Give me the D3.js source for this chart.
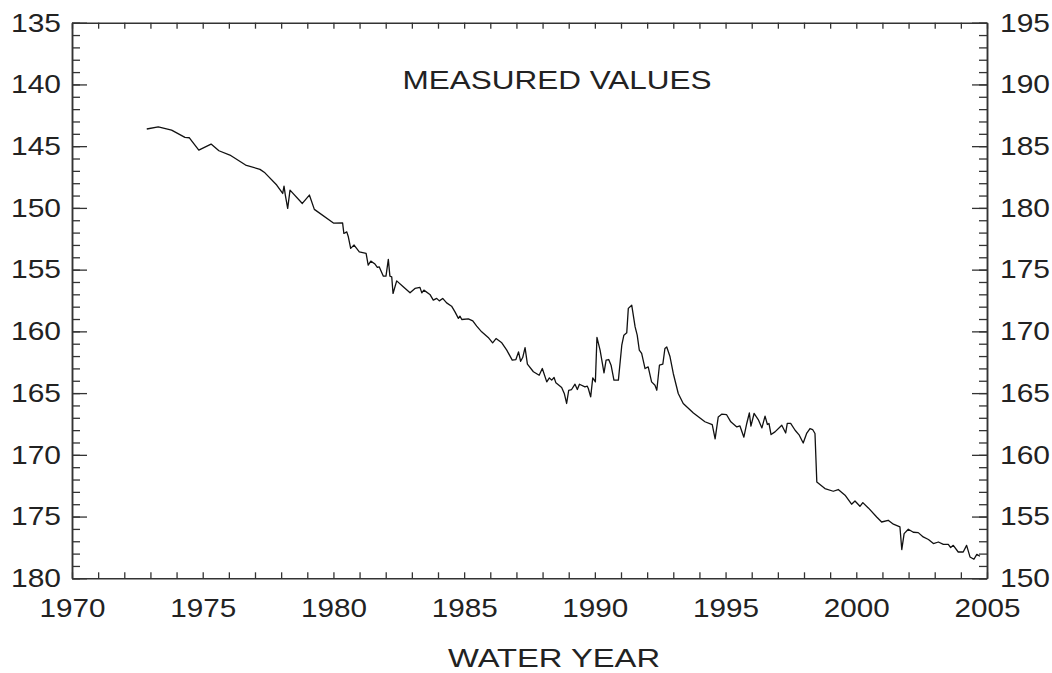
<!DOCTYPE html>
<html><head><meta charset="utf-8">
<script src="https://cdn.jsdelivr.net/npm/d3@7"></script>
<style>body{margin:0;background:#fff}</style></head>
<body>
<svg id="c" width="1052" height="673"></svg>
<script>
// ---- data ----
const years = [
1972.86,1973.30,1973.81,1974.32,1974.49,1974.85,1975.32,1975.62,1976.04,1976.64,
1977.19,1977.38,1977.83,1978.06,1978.11,1978.16,1978.25,1978.34,1978.81,1979.08,
1979.27,1980.00,1980.35,1980.40,1980.51,1980.57,1980.66,1980.79,1980.99,1981.25,
1981.33,1981.43,1981.59,1981.68,1981.75,1981.91,1982.01,1982.10,1982.16,1982.23,
1982.28,1982.42,1982.67,1982.93,1983.12,1983.31,1983.38,1983.46,1983.69,1983.82,
1983.95,1984.05,1984.18,1984.33,1984.52,1984.65,1984.78,1984.84,1984.91,1985.16,
1985.33,1985.48,1985.67,1985.92,1986.09,1986.22,1986.44,1986.63,1986.84,1986.98,
1987.08,1987.16,1987.24,1987.33,1987.42,1987.65,1987.87,1987.99,1988.16,1988.26,
1988.35,1988.44,1988.51,1988.73,1988.83,1988.92,1989.00,1989.11,1989.24,1989.33,
1989.41,1989.62,1989.71,1989.75,1989.84,1989.92,1990.02,1990.08,1990.20,1990.35,
1990.43,1990.53,1990.62,1990.73,1990.90,1991.03,1991.11,1991.22,1991.28,1991.41,
1991.54,1991.62,1991.70,1991.79,1991.92,1992.04,1992.17,1992.30,1992.37,1992.47,
1992.60,1992.68,1992.75,1992.87,1993.00,1993.19,1993.38,1993.77,1994.21,1994.49,
1994.60,1994.72,1994.85,1995.04,1995.20,1995.43,1995.55,1995.70,1995.81,1995.91,
1995.97,1996.09,1996.25,1996.39,1996.51,1996.60,1996.66,1996.74,1996.89,1997.15,
1997.30,1997.36,1997.49,1997.66,1997.82,1997.97,1998.10,1998.23,1998.33,1998.42,
1998.49,1998.80,1999.12,1999.31,1999.57,1999.82,1999.95,2000.14,2000.25,2000.46,
2000.78,2000.97,2001.22,2001.42,2001.67,2001.74,2001.83,2001.99,2002.18,2002.37,
2002.56,2002.76,2002.95,2003.14,2003.33,2003.52,2003.61,2003.71,2003.90,2004.09,
2004.22,2004.35,2004.50,2004.61,2004.73];
const levels = [
143.61,143.43,143.70,144.29,144.32,145.32,144.83,145.37,145.72,146.53,
146.88,147.16,148.15,148.83,148.23,148.96,150.04,148.56,149.64,148.96,
150.12,151.23,151.21,152.07,151.94,152.34,153.28,153.01,153.56,153.69,
154.64,154.31,154.55,154.82,154.77,155.53,155.53,154.17,155.53,155.58,
156.93,155.91,156.39,156.88,156.52,156.44,156.88,156.66,157.01,157.47,
157.33,157.53,157.33,157.69,157.96,158.42,158.95,158.77,159.04,158.99,
159.15,159.58,160.04,160.49,160.93,160.58,160.93,161.52,162.33,162.28,
161.66,162.42,162.12,161.32,162.66,163.27,163.55,163.01,164.09,163.77,
163.95,163.74,164.17,164.55,165.03,165.84,164.77,164.71,164.28,164.71,
164.28,164.50,164.44,164.63,165.31,163.77,164.09,160.49,161.52,163.36,
162.33,162.28,162.74,163.95,163.95,161.12,160.31,160.12,158.14,157.88,
159.64,160.31,161.52,161.79,163.01,162.88,164.09,164.36,164.77,162.74,
162.66,161.39,161.26,162.01,163.41,165.03,165.84,166.61,167.32,167.56,
168.71,166.93,166.71,166.75,167.33,167.74,167.66,168.57,167.46,166.61,
167.68,166.65,167.14,167.82,166.87,167.54,167.46,168.36,168.14,167.60,
168.23,167.46,167.46,168.01,168.41,169.04,168.27,167.87,167.95,168.27,
172.20,172.73,172.95,172.81,173.27,174.00,173.74,174.17,173.87,174.30,
175.03,175.44,175.30,175.62,175.84,177.67,176.38,176.03,176.27,176.30,
176.65,176.86,177.19,177.06,177.25,177.25,177.51,177.33,177.87,177.87,
177.33,178.27,178.46,178.06,178.22];
const xMajorTicks = [1970,1975,1980,1985,1990,1995,2000,2005];
const yLeftTicks = [135,140,145,150,155,160,165,170,175,180];
const yRightTicks = [195,190,185,180,175,170,165,160,155,150];
const titleText = "MEASURED VALUES";
const xAxisTitle = "WATER YEAR";

// ---- drawing ----
const svg = d3.select("#c");
const font = "'Liberation Sans', Arial, Helvetica, sans-serif";
const L = 72, R = 987, T = 22.7, B = 578.3;
const x = d3.scaleLinear().domain([1970, 2005]).range([L, R]);
const y = d3.scaleLinear().domain([135, 180]).range([T, B]);
const yR = d3.scaleLinear().domain([195, 150]).range([T, B]);
const minorYears = d3.range(1970, 2006);
const minorLeft = d3.range(135, 181);
const minorRight = d3.range(150, 196);

function style(g, lenLabel) {
  g.selectAll("path.domain").attr("stroke", "#333").attr("stroke-width", 1.5);
  g.selectAll(".tick line").attr("stroke", "#333").attr("stroke-width", 1.3);
  g.selectAll(".tick text")
    .attr("font-family", font).attr("font-size", 26).attr("fill", "#222")
    .each(function () {
      const t = d3.select(this);
      if (t.text() && lenLabel) t.attr("textLength", lenLabel).attr("lengthAdjust", "spacingAndGlyphs");
    });
}

// top
svg.append("g").attr("transform", `translate(0,${T})`)
  .call(d3.axisTop(x).tickValues(minorYears).tickSizeInner(-6).tickSizeOuter(0).tickFormat(""))
  .call(g => style(g));
// bottom
svg.append("g").attr("transform", `translate(0,${B})`)
  .call(d3.axisBottom(x).tickValues(minorYears).tickSizeInner(-6).tickSizeOuter(0).tickPadding(20)
    .tickFormat(d => xMajorTicks.includes(d) ? String(d) : ""))
  .call(g => style(g, 66));
// left
svg.append("g").attr("transform", `translate(${L},0)`)
  .call(d3.axisLeft(y).tickValues(minorLeft).tickSizeInner(-8).tickSizeOuter(0).tickFormat(""))
  .call(g => style(g));
svg.append("g").attr("transform", `translate(${L},0)`)
  .call(d3.axisLeft(y).tickValues(yLeftTicks).tickSizeInner(-15).tickSizeOuter(0).tickPadding(11))
  .call(g => style(g, 50));
// right
svg.append("g").attr("transform", `translate(${R},0)`)
  .call(d3.axisRight(yR).tickValues(minorRight).tickSizeInner(-8).tickSizeOuter(0).tickFormat(""))
  .call(g => style(g));
svg.append("g").attr("transform", `translate(${R},0)`)
  .call(d3.axisRight(yR).tickValues(yRightTicks).tickSizeInner(-15).tickSizeOuter(0).tickPadding(13))
  .call(g => style(g, 50));

// series
const pts = d3.range(years.length).map(i => [years[i], levels[i]]);
svg.append("path").datum(pts)
  .attr("fill", "none").attr("stroke", "#111").attr("stroke-width", 1.3).attr("stroke-linejoin", "round")
  .attr("d", d3.line().x(d => x(d[0])).y(d => y(d[1])));

// texts
svg.append("text").attr("x", 557).attr("y", 89).attr("text-anchor", "middle")
  .attr("font-family", font).attr("font-size", 25).attr("fill", "#222")
  .attr("textLength", 309).attr("lengthAdjust", "spacingAndGlyphs").text(titleText);
svg.append("text").attr("x", 554).attr("y", 667).attr("text-anchor", "middle")
  .attr("font-family", font).attr("font-size", 25).attr("fill", "#222")
  .attr("textLength", 212).attr("lengthAdjust", "spacingAndGlyphs").text(xAxisTitle);
</script>
</body></html>
